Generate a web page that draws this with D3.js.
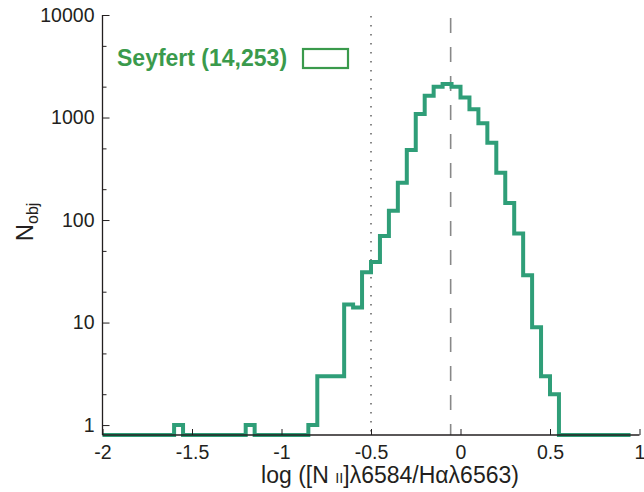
<!DOCTYPE html>
<html><head><meta charset="utf-8">
<script src="https://cdn.jsdelivr.net/npm/d3@7"></script>
<style>body{margin:0;background:#fff}svg{display:block}</style>
</head><body>
<svg id="c" width="644" height="492"></svg>
<script>
// bin left edges (bin width 0.05)
const binEdges = [-2,-1.95,-1.9,-1.85,-1.8,-1.75,-1.7,-1.65,-1.6,-1.55,-1.5,-1.45,-1.4,-1.35,-1.3,-1.25,-1.2,-1.15,-1.1,-1.05,
  -1,-0.95,-0.9,-0.85,-0.8,-0.75,-0.7,-0.65,-0.6,-0.55,-0.5,-0.45,-0.4,-0.35,-0.3,-0.25,-0.2,-0.15,-0.1,-0.05,
  0,0.05,0.1,0.15,0.2,0.25,0.3,0.35,0.4,0.45,0.5,0.55,0.6,0.65,0.7,0.75,0.8,0.85,0.9,0.95];
// counts per bin (last edge closes the range)
const counts = [0,0,0,0,0,0,0,0,1,0,0,0,0,0,0,0,1,0,0,0,
  0,0,0,1,3,3,3,15,14,31,39,70,123,231,482,1082,1633,2000,2120,2000,
  1567,1203,878,568,289,147,74,29,9,3,2,0,0,0,0,0,0,0,0];
const xTicks = [-2,-1.5,-1,-0.5,0,0.5,1];
const xTickLabels = ["-2","-1.5","-1","-0.5","0","0.5","1"];
const yTicks = [1,10,100,1000,10000];
const yTickLabels = ["1","10","100","1000","10000"];
const yMinorTicks = [2,5,20,50,200,500,2000,5000];
const dottedLineX = [-0.5];
const dashedLineX = [-0.055];
const legendLabel = "Seyfert (14,253)";

const svg = d3.select("#c");
const L = 102.5, R = 639.5, T = 15, B = 435;
const yFloor = 0.8;
const x = d3.scaleLinear().domain([-2, 1]).range([L, R]);
const y = d3.scaleLog().domain([yFloor, 10000]).range([B, T]);

const lineCol = "#2f9e78";
const legCol = "#3a9a4c";
const font = "'Liberation Sans', Arial, Helvetica, sans-serif";

// reference lines
svg.selectAll(".dot").data(dottedLineX).enter().append("line")
  .attr("x1", d => x(d)).attr("x2", d => x(d)).attr("y1", T + 1).attr("y2", B)
  .attr("stroke", "#888").attr("stroke-width", 2).attr("stroke-dasharray", "1.6,7.4");
svg.selectAll(".dash").data(dashedLineX).enter().append("line")
  .attr("x1", d => x(d)).attr("x2", d => x(d)).attr("y1", T + 3).attr("y2", B)
  .attr("stroke", "#888").attr("stroke-width", 1.6).attr("stroke-dasharray", "15,14");

// histogram
const pts = binEdges.map((e, i) => [e, i < counts.length ? counts[i] : counts[counts.length - 1]]);
const line = d3.line().curve(d3.curveStepAfter)
  .x(d => x(d[0])).y(d => y(Math.max(d[1], yFloor)));
svg.append("path").attr("d", line(pts)).attr("fill", "none")
  .attr("stroke", lineCol).attr("stroke-width", 4).attr("stroke-linejoin", "miter");

// axes
const xAxis = d3.axisBottom(x).tickValues(xTicks).tickFormat((d, i) => xTickLabels[i])
  .tickSizeInner(-6).tickSizeOuter(0).tickPadding(10);
const gx = svg.append("g").attr("transform", `translate(0,${B})`).call(xAxis);
const yAxis = d3.axisLeft(y).tickValues(yTicks).tickFormat((d, i) => yTickLabels[i])
  .tickSizeInner(-7).tickSizeOuter(0).tickPadding(8);
const gy = svg.append("g").attr("transform", `translate(${L},0)`).call(yAxis);
const gym = svg.append("g").attr("transform", `translate(${L},0)`)
  .call(d3.axisLeft(y).tickValues(yMinorTicks).tickFormat("").tickSizeInner(-4).tickSizeOuter(0));
gym.select(".domain").remove();
[gx, gy].forEach(g => {
  g.select(".domain").attr("stroke", "#231f20").attr("stroke-width", 1.3);
  g.selectAll(".tick line").attr("stroke", "#231f20").attr("stroke-width", 1);
  g.selectAll("text").attr("fill", "#231f20").style("font-family", font).style("font-size", "19.5px");
});
gym.selectAll(".tick line").attr("stroke", "#231f20");
gx.select(".domain").attr("d", `M${L},0H${R}`);
gy.select(".domain").attr("d", `M0,${T}V${B}`);

// axis titles
const xt = svg.append("text").attr("x", 390).attr("y", 483).attr("text-anchor", "middle")
  .style("font-family", font).style("font-size", "23px").attr("fill", "#231f20");
xt.append("tspan").text("log ([N ");
xt.append("tspan").style("font-size", "14.5px").text("II");
xt.append("tspan").text("]λ6584/Hαλ6563)");

const yt = svg.append("text").attr("transform", "translate(33,222) rotate(-90)")
  .attr("text-anchor", "middle").style("font-family", font).style("font-size", "24px").attr("fill", "#231f20");
yt.append("tspan").text("N");
yt.append("tspan").attr("dy", 5).style("font-size", "16px").text("obj");

// legend
svg.append("text").attr("x", 117).attr("y", 66).text(legendLabel)
  .style("font-family", font).style("font-size", "23px").style("font-weight", "bold").attr("fill", legCol);
svg.append("rect").attr("x", 303).attr("y", 49).attr("width", 45).attr("height", 19)
  .attr("fill", "none").attr("stroke", legCol).attr("stroke-width", 2.2);
</script>
</body></html>
